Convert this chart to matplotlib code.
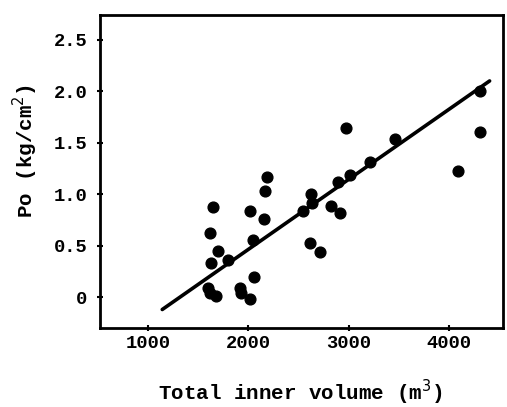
import numpy as np
import matplotlib
matplotlib.use("Agg")
import matplotlib.pyplot as plt

# --- data ---
volume = [1648, 1621, 1698, 1631, 1797, 1598, 1615, 1674, 1920, 1930,
          2020, 2056, 2020, 2047, 2153, 2169, 2189, 2545, 2628, 2638,
          2611, 2711, 2827, 2917, 2894, 2977, 3017, 3216, 3458, 4090,
          4306, 4306]
po = [0.88, 0.62, 0.45, 0.33, 0.36, 0.09, 0.04, 0.01, 0.09, 0.04,
      -0.02, 0.20, 0.84, 0.56, 0.76, 1.03, 1.17, 0.84, 1.00, 0.91,
      0.53, 0.44, 0.89, 0.82, 1.12, 1.64, 1.19, 1.31, 1.54, 1.23,
      2.00, 1.60]

# regression line end points
fit_x = [1140, 4405]
fit_y = [-0.12, 2.10]

xticks = [1000, 2000, 3000, 4000]
yticks = [0, 0.5, 1.0, 1.5, 2.0, 2.5]
ytick_labels = ["0", "0.5", "1.0", "1.5", "2.0", "2.5"]

font = "Liberation Mono"

fig = plt.figure(figsize=(5.07, 4.07), dpi=100)
ax = fig.add_axes([0.197, 0.194, 0.795, 0.769])

ax.plot(fit_x, fit_y, color="black", lw=2.6, solid_capstyle="round")
ax.scatter(volume, po, s=60, color="black", zorder=3)

ax.set_xlim(518, 4538)
ax.set_ylim(-0.30, 2.74)
ax.set_xticks(xticks)
ax.set_yticks(yticks)
ax.set_yticklabels(ytick_labels)

for sp in ax.spines.values():
    sp.set_linewidth(2.0)
ax.tick_params(direction="inout", length=4, width=1.5, labelsize=13.5)
ax.tick_params(axis="y", pad=7)
ax.tick_params(axis="x", pad=3)
for lab in ax.get_xticklabels() + ax.get_yticklabels():
    lab.set_fontfamily(font)
    lab.set_fontweight("bold")

ax.set_xlabel("Total inner volume (m$^3$)", fontsize=15, fontfamily=font,
              fontweight="bold", va="center")
ax.set_ylabel("Po (kg/cm$^2$)", fontsize=15, fontfamily=font,
              fontweight="bold", va="center")
ax.xaxis.set_label_coords(0.496, -0.205)
ax.yaxis.set_label_coords(-0.186, 0.565)

fig.savefig("out.png", dpi=100)
